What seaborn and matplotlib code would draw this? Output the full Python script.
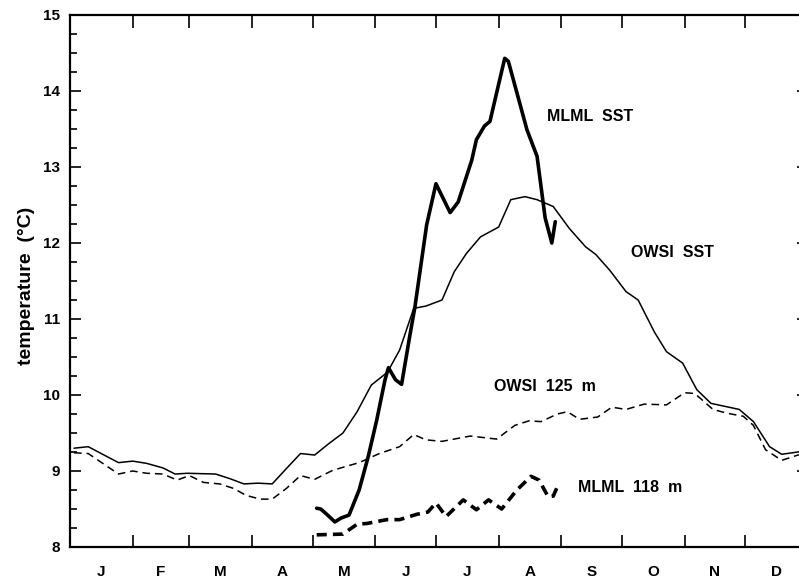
import numpy as np
import pandas as pd
import matplotlib
matplotlib.use("Agg")
import matplotlib.pyplot as plt
from matplotlib.ticker import MultipleLocator
import seaborn as sns

# ---- data (day of year, temperature in deg C) ----
owsi_sst_day = [2, 9, 24, 31, 38, 46, 52, 58, 72, 79, 86, 93, 100, 108, 114, 121,
                128, 135, 142, 149, 157, 163, 170, 176, 184, 190, 196, 203, 212,
                218, 225, 231, 239, 247, 255, 260, 267, 275, 281, 289, 295, 303,
                310, 317, 331, 338, 346, 352, 360, 366]
owsi_sst_temp = [9.30, 9.32, 9.11, 9.13, 9.10, 9.04, 8.96, 8.97, 8.96, 8.90, 8.83,
                 8.84, 8.83, 9.06, 9.23, 9.21, 9.36, 9.50, 9.78, 10.13, 10.30,
                 10.59, 11.14, 11.17, 11.25, 11.62, 11.86, 12.08, 12.21, 12.57,
                 12.61, 12.57, 12.48, 12.19, 11.95, 11.85, 11.64, 11.36, 11.25,
                 10.83, 10.57, 10.42, 10.07, 9.89, 9.81, 9.65, 9.32, 9.22, 9.25,
                 9.28]

owsi_125_day = [2, 9, 24, 31, 38, 46, 53, 59, 66, 74, 81, 87, 94, 100, 107, 114,
                121, 130, 143, 153, 163, 170, 176, 184, 198, 211, 220, 227, 233,
                241, 246, 252, 261, 268, 275, 284, 295, 304, 309, 318, 325, 333,
                338, 344, 352, 360, 366]
owsi_125_temp = [9.24, 9.23, 8.96, 9.00, 8.97, 8.96, 8.88, 8.94, 8.85, 8.83, 8.77,
                 8.68, 8.63, 8.63, 8.77, 8.94, 8.89, 9.01, 9.11, 9.23, 9.32, 9.48,
                 9.41, 9.39, 9.46, 9.42, 9.60, 9.66, 9.65, 9.75, 9.78, 9.68, 9.71,
                 9.84, 9.81, 9.88, 9.87, 10.03, 10.02, 9.81, 9.76, 9.72, 9.60,
                 9.28, 9.14, 9.21, 9.24]

mlml_sst_day = [122, 124, 127, 131, 134, 138, 143, 147.5, 151.7, 155.8, 157.5,
                161, 164, 168, 170.6, 176.4, 181, 188, 192, 198.7, 201, 205,
                207.7, 215, 216.8, 226, 231, 235, 238.3, 240]
mlml_sst_temp = [8.51, 8.50, 8.43, 8.33, 8.38, 8.42, 8.75, 9.19, 9.67, 10.20,
                 10.36, 10.20, 10.14, 10.77, 11.16, 12.24, 12.78, 12.40, 12.54,
                 13.09, 13.36, 13.54, 13.60, 14.43, 14.39, 13.49, 13.14, 12.33,
                 12.00, 12.28]

mlml_118_day = [122, 135, 142, 147, 156.6, 163, 171.5, 177, 181, 186, 194.5, 201,
                207, 213.5, 221, 228, 232, 236.5, 239, 241.5]
mlml_118_temp = [8.16, 8.17, 8.30, 8.31, 8.36, 8.36, 8.43, 8.46, 8.58, 8.40, 8.62,
                 8.49, 8.62, 8.50, 8.75, 8.93, 8.88, 8.66, 8.67, 8.82]

months = ["J", "F", "M", "A", "M", "J", "J", "A", "S", "O", "N", "D"]
month_len = [31, 28, 31, 30, 31, 30, 31, 31, 30, 31, 30, 31]

# ---- styling ----
sns.set_theme(style="ticks")
plt.rcParams["font.family"] = ["Liberation Sans", "DejaVu Sans"]
plt.rcParams["font.weight"] = "bold"

fig = plt.figure(figsize=(7.99, 5.78), dpi=100)
ax = fig.add_axes([70 / 799, 31 / 578, 738 / 799, 532 / 578])

series = [
    (owsi_sst_day, owsi_sst_temp, 1.1, "-"),
    (owsi_125_day, owsi_125_temp, 1.1, (0, (5.0, 3.2))),
    (mlml_sst_day, mlml_sst_temp, 2.6, "-"),
    (mlml_118_day, mlml_118_temp, 2.6, (0, (2.8, 1.7))),
]
for days, temps, lw, ls in series:
    df = pd.DataFrame({"day": days, "temp": temps})
    sns.lineplot(data=df, x="day", y="temp", ax=ax, color="black",
                 linewidth=lw, linestyle=ls, estimator=None, sort=False,
                 solid_joinstyle="round", solid_capstyle="round",
                 dash_joinstyle="round")

ax.set_xlim(0, 365)
ax.set_ylim(8, 15)

edges = np.cumsum([0] + month_len)
mids = (edges[:-1] + edges[1:]) / 2
ax.set_xticks(edges[1:-1])
ax.set_xticklabels([])
ax.set_xticks(mids, minor=True)
ax.set_xticklabels(months, minor=True, fontsize=11, fontweight="bold")
ax.tick_params(axis="x", which="major", direction="in", length=9, width=1.2,
               top=True, bottom=True, color="black")
ax.tick_params(axis="x", which="minor", length=0, pad=13, labelcolor="black")

ax.yaxis.set_major_locator(MultipleLocator(1))
ax.yaxis.set_minor_locator(MultipleLocator(0.25))
ax.tick_params(axis="y", which="major", direction="in", length=8, width=1.2,
               left=True, right=True, labelsize=11, pad=7, color="black",
               labelcolor="black")
ax.tick_params(axis="y", which="minor", direction="in", length=5, width=1.2,
               left=True, right=True, color="black")
for lbl in ax.get_yticklabels():
    lbl.set_fontweight("bold")

for sp in ax.spines.values():
    sp.set_visible(True)
    sp.set_linewidth(1.6)
    sp.set_color("black")

ax.set_xlabel("")
ax.set_ylabel("temperature  (°C)", fontsize=14, fontweight="bold", color="black")
ax.yaxis.set_label_coords(-0.047, 0.49)

label_kw = dict(fontsize=11.5, fontweight="bold", color="black",
                ha="left", va="center")
ax.text(236, 13.67, "MLML  SST", **label_kw)
ax.text(277.5, 11.87, "OWSI  SST", **label_kw)
ax.text(209.5, 10.11, "OWSI  125  m", **label_kw)
ax.text(251, 8.78, "MLML  118  m", **label_kw)

fig.savefig("out.png", dpi=100, facecolor="white")
